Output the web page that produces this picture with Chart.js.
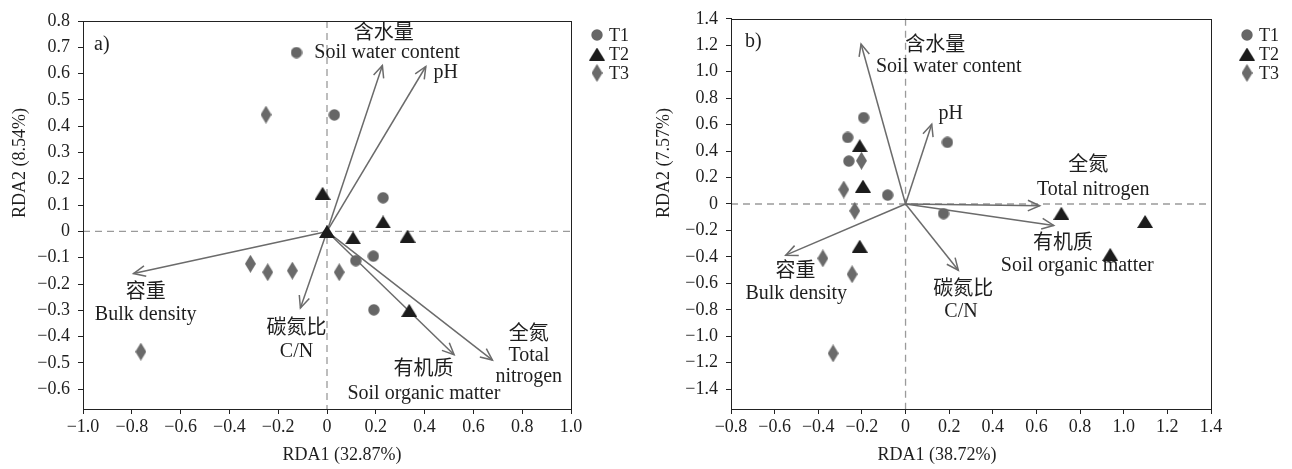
<!DOCTYPE html>
<html>
<head>
<meta charset="utf-8">
<script src="https://cdn.jsdelivr.net/npm/chart.js@4.4.1/dist/chart.umd.min.js"></script>
<style>
  body { margin: 0; background: #fff; }
  .panel { position: absolute; top: 0; width: 646px; height: 469px; }
</style>
</head>
<body>
<div class="panel" style="left:0"><canvas id="chartA"></canvas></div>
<div class="panel" style="left:646px"><canvas id="chartB"></canvas></div>
<script>
// ---- panel a) ----
const seriesNames = ['T1', 'T2', 'T3'];

const t1A_x = [-0.125, 0.03, 0.23, 0.19, 0.118, 0.192];
const t1A_y = [0.68, 0.443, 0.128, -0.094, -0.111, -0.298];
const t2A_x = [-0.018, 0, 0.23, 0.107, 0.33, 0.337];
const t2A_y = [0.145, 0, 0.036, -0.024, -0.018, -0.30];
const t3A_x = [-0.25, -0.314, -0.243, -0.142, 0.05, -0.763];
const t3A_y = [0.444, -0.123, -0.155, -0.149, -0.155, -0.457];

// environmental arrows (tips), origin at 0,0
const arrowA_x = [0.227, 0.405, -0.793, -0.109, 0.521, 0.678];
const arrowA_y = [0.631, 0.627, -0.160, -0.291, -0.469, -0.489];

const labelA_text = ['含水量', 'Soil water content', 'pH', '容重', 'Bulk density', '碳氮比', 'C/N',
                     '有机质', 'Soil organic matter', '全氮', 'Total', 'nitrogen'];
const labelA_x = [0.233, 0.246, 0.487, -0.743, -0.743, -0.125, -0.125, 0.396, 0.397, 0.827, 0.827, 0.827];
const labelA_y = [0.752, 0.679, 0.603, -0.233, -0.317, -0.370, -0.457, -0.527, -0.618, -0.393, -0.473, -0.552];

// ---- panel b) ----
const t1B_x = [-0.192, -0.265, -0.260, -0.082, 0.192, 0.174];
const t1B_y = [0.653, 0.503, 0.324, 0.067, 0.466, -0.073];
const t2B_x = [-0.210, -0.195, -0.210, 0.714, 1.098, 0.938];
const t2B_y = [0.441, 0.135, -0.319, -0.070, -0.132, -0.381];
const t3B_x = [-0.202, -0.283, -0.233, -0.379, -0.245, -0.332];
const t3B_y = [0.327, 0.109, -0.052, -0.411, -0.531, -1.129];

const arrowB_x = [-0.204, 0.120, 0.615, 0.679, 0.242, -0.549];
const arrowB_y = [1.209, 0.603, -0.013, -0.162, -0.501, -0.387];

const labelB_text = ['含水量', 'Soil water content', 'pH', '全氮', 'Total nitrogen', '有机质',
                     'Soil organic matter', '容重', 'Bulk density', '碳氮比', 'C/N'];
const labelB_x = [0.136, 0.198, 0.207, 0.837, 0.860, 0.722, 0.787, -0.504, -0.501, 0.265, 0.254];
const labelB_y = [1.199, 1.039, 0.683, 0.289, 0.110, -0.304, -0.469, -0.513, -0.678, -0.645, -0.812];

// ---- marker images ----
function circleImg(d, color) {
  const c = document.createElement('canvas');
  c.width = d; c.height = d;
  const g = c.getContext('2d');
  g.fillStyle = color;
  g.beginPath(); g.arc(d / 2, d / 2, d / 2 - 0.3, 0, Math.PI * 2); g.fill();
  return c;
}
function triangleImg(w, h, color) {
  const c = document.createElement('canvas');
  c.width = w; c.height = h;
  const g = c.getContext('2d');
  g.fillStyle = color;
  g.beginPath(); g.moveTo(w / 2, 0); g.lineTo(w, h); g.lineTo(0, h); g.closePath(); g.fill();
  return c;
}
function diamondImg(w, h, color) {
  const c = document.createElement('canvas');
  c.width = w; c.height = h;
  const g = c.getContext('2d');
  g.fillStyle = color;
  g.beginPath(); g.moveTo(w / 2, 0); g.lineTo(w, h / 2); g.lineTo(w / 2, h); g.lineTo(0, h / 2); g.closePath(); g.fill();
  return c;
}
const markers = [circleImg(12, '#666'), triangleImg(16, 13, '#1c1c1c'), diamondImg(11, 18, '#6a6a6a')];

const FONT = '"Liberation Serif", "Times New Roman", serif';
const LABEL_FONT = '20px "Liberation Serif", "Noto Sans CJK SC", serif';

function fmt(v) {
  if (Math.abs(v) < 1e-9) return '0';
  return (v < 0 ? '\u2212' : '') + Math.abs(v).toFixed(1);
}
function pts(xs, ys) {
  return xs.map((x, i) => ({ x: x, y: ys[i] }));
}

function rdaPlugin(p) {
  return {
    id: 'rda',
    beforeDatasetsDraw(chart) {
      const ctx = chart.ctx, a = chart.chartArea;
      const x0 = chart.scales.x.getPixelForValue(0);
      const y0 = chart.scales.y.getPixelForValue(0);
      ctx.save();
      ctx.strokeStyle = '#9a9a9a';
      ctx.lineWidth = 1.3;
      ctx.setLineDash([7, 5]);
      ctx.beginPath();
      ctx.moveTo(x0, a.top); ctx.lineTo(x0, a.bottom);
      ctx.moveTo(a.left, y0); ctx.lineTo(a.right, y0);
      ctx.stroke();
      ctx.restore();
    },
    afterDatasetsDraw(chart) {
      const ctx = chart.ctx, a = chart.chartArea;
      const xs = chart.scales.x, ys = chart.scales.y;
      ctx.save();
      // arrow heads
      chart.data.datasets.forEach((ds, i) => {
        if (!ds.isArrow) return;
        const el = chart.getDatasetMeta(i).data;
        const x1 = el[0].x, y1 = el[0].y, x2 = el[1].x, y2 = el[1].y;
        const ang = Math.atan2(y2 - y1, x2 - x1);
        const len = 13, spread = 0.42;
        ctx.strokeStyle = ds.borderColor;
        ctx.lineWidth = 1.5;
        ctx.beginPath();
        ctx.moveTo(x2 - len * Math.cos(ang - spread), y2 - len * Math.sin(ang - spread));
        ctx.lineTo(x2, y2);
        ctx.lineTo(x2 - len * Math.cos(ang + spread), y2 - len * Math.sin(ang + spread));
        ctx.stroke();
      });
      // variable labels
      ctx.fillStyle = '#1e1e1e';
      ctx.font = LABEL_FONT;
      ctx.textAlign = 'center';
      ctx.textBaseline = 'middle';
      p.labelText.forEach((t, i) => {
        ctx.fillText(t, xs.getPixelForValue(p.labelX[i]), ys.getPixelForValue(p.labelY[i]));
      });
      // frame
      ctx.strokeStyle = '#222';
      ctx.lineWidth = 1;
      ctx.strokeRect(Math.round(a.left) + 0.5, Math.round(a.top) + 0.5,
                     Math.round(a.right - a.left), Math.round(a.bottom - a.top));
      ctx.restore();
    },
    afterDraw(chart) {
      const ctx = chart.ctx;
      ctx.save();
      ctx.fillStyle = '#1e1e1e';
      ctx.textBaseline = 'middle';
      // panel letter
      ctx.font = '20px ' + FONT;
      ctx.textAlign = 'left';
      ctx.fillText(p.letter, p.letterPos[0], p.letterPos[1]);
      // legend
      ctx.font = '18px ' + FONT;
      seriesNames.forEach((n, i) => {
        const m = markers[i];
        const cy = p.legendPos[1] + i * 19;
        ctx.drawImage(m, p.legendPos[0] - m.width / 2, cy - m.height / 2);
        ctx.fillText(n, p.legendPos[0] + 12, cy + 1);
      });
      // axis titles
      ctx.textAlign = 'center';
      ctx.fillText(p.xTitle, p.xTitlePos[0], p.xTitlePos[1]);
      ctx.translate(p.yTitlePos[0], p.yTitlePos[1]);
      ctx.rotate(-Math.PI / 2);
      ctx.fillText(p.yTitle, 0, 0);
      ctx.restore();
    }
  };
}

function buildChart(id, p) {
  const datasets = [
    { label: 'T1', data: pts(p.t1x, p.t1y), pointStyle: markers[0], order: 0 },
    { label: 'T2', data: pts(p.t2x, p.t2y), pointStyle: markers[1], order: 0 },
    { label: 'T3', data: pts(p.t3x, p.t3y), pointStyle: markers[2], order: 0 }
  ];
  p.arrowX.forEach((x, i) => {
    datasets.push({
      type: 'line', isArrow: true, order: 1,
      data: [{ x: 0, y: 0 }, { x: x, y: p.arrowY[i] }],
      borderColor: '#6b6b6b', borderWidth: 1.5, pointRadius: 0, fill: false
    });
  });
  const tickFont = { family: FONT, size: 18 };
  return new Chart(document.getElementById(id), {
    type: 'scatter',
    data: { datasets: datasets },
    options: {
      responsive: true,
      maintainAspectRatio: false,
      animation: false,
      events: [],
      layout: { padding: { top: p.top, right: p.right, left: 0, bottom: 0 } },
      plugins: { legend: { display: false }, tooltip: { enabled: false } },
      scales: {
        x: {
          type: 'linear', min: p.xMin, max: p.xMax,
          ticks: { stepSize: p.xStep, autoSkip: false, maxRotation: 0, includeBounds: false,
                   font: tickFont, color: '#1e1e1e', padding: 2, callback: fmt },
          grid: { drawOnChartArea: false, drawTicks: true, tickLength: 5, color: '#222' },
          border: { color: '#222', width: 1 },
          afterFit: s => { s.height = 60; }
        },
        y: {
          type: 'linear', min: p.yMin, max: p.yMax,
          ticks: { stepSize: p.yStep, autoSkip: false, includeBounds: false,
                   font: tickFont, color: '#1e1e1e', padding: 8, callback: fmt },
          grid: { drawOnChartArea: false, drawTicks: true, tickLength: 5, color: '#222' },
          border: { color: '#222', width: 1 },
          afterFit: s => { s.width = p.yAxisWidth; }
        }
      }
    },
    plugins: [rdaPlugin(p)]
  });
}

buildChart('chartA', {
  t1x: t1A_x, t1y: t1A_y, t2x: t2A_x, t2y: t2A_y, t3x: t3A_x, t3y: t3A_y,
  arrowX: arrowA_x, arrowY: arrowA_y,
  labelText: labelA_text, labelX: labelA_x, labelY: labelA_y,
  xMin: -1, xMax: 1, xStep: 0.2, yMin: -0.675, yMax: 0.8, yStep: 0.1,
  top: 21, right: 75, yAxisWidth: 83,
  letter: 'a)', letterPos: [94, 45],
  legendPos: [597, 35],
  xTitle: 'RDA1 (32.87%)', xTitlePos: [342, 455],
  yTitle: 'RDA2 (8.54%)', yTitlePos: [20, 163]
});

buildChart('chartB', {
  t1x: t1B_x, t1y: t1B_y, t2x: t2B_x, t2y: t2B_y, t3x: t3B_x, t3y: t3B_y,
  arrowX: arrowB_x, arrowY: arrowB_y,
  labelText: labelB_text, labelX: labelB_x, labelY: labelB_y,
  xMin: -0.8, xMax: 1.4, xStep: 0.2, yMin: -1.55, yMax: 1.4, yStep: 0.2,
  top: 15, right: 81, yAxisWidth: 85,
  letter: 'b)', letterPos: [99, 42],
  legendPos: [601, 35],
  xTitle: 'RDA1 (38.72%)', xTitlePos: [291, 455],
  yTitle: 'RDA2 (7.57%)', yTitlePos: [18, 163]
});
</script>
</body>
</html>
